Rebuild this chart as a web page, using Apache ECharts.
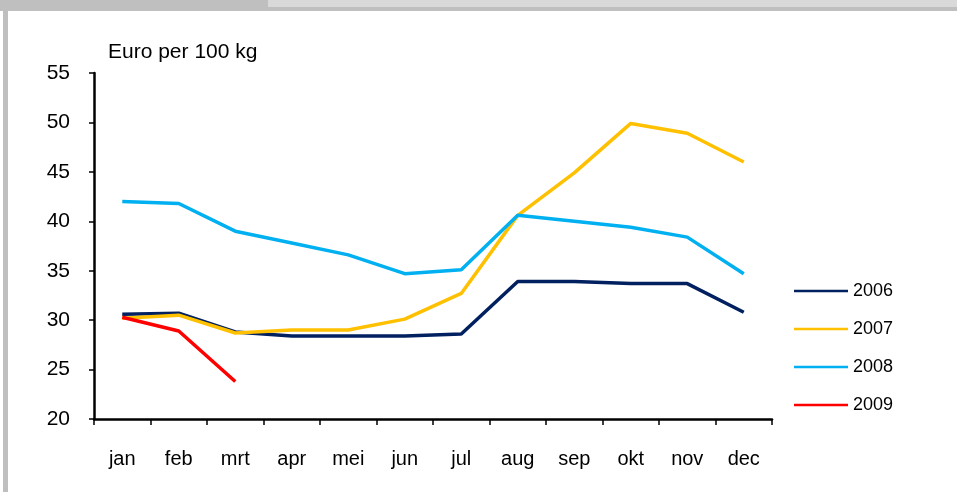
<!DOCTYPE html>
<html lang="nl">
<head>
    <meta charset="UTF-8">
    <title>Euro per 100 kg</title>
    <script src="https://cdn.jsdelivr.net/npm/echarts@6/dist/echarts.min.js"></script>
    <style>
        * {
            margin: 0;
            padding: 0
        }

        html, body {
            width: 100%;
            height: 100%;
        }

        #main {
            width: 957px;
            height: 492px;
        }
    </style>
</head>
<body>
<div id="main"></div>
<script>
    // maanden en prijzen per jaar
    var months = ['jan', 'feb', 'mrt', 'apr', 'mei', 'jun', 'jul', 'aug', 'sep', 'okt', 'nov', 'dec'];
    var years = ['2006', '2007', '2008', '2009'];
    var price2006 = [30.6, 30.7, 28.8, 28.4, 28.4, 28.4, 28.6, 33.9, 33.9, 33.7, 33.7, 30.8];
    var price2007 = [30.2, 30.5, 28.7, 29.0, 29.0, 30.1, 32.7, 40.6, 44.9, 49.9, 48.9, 46.0];
    var price2008 = [42.0, 41.8, 39.0, 37.8, 36.6, 34.7, 35.1, 40.6, 40.0, 39.4, 38.4, 34.7];
    var price2009 = [30.3, 28.9, 23.8];
    var yTicks = [20, 25, 30, 35, 40, 45, 50, 55];

    var font = '"Liberation Sans", sans-serif';
    var colors = ['#002060', '#FFC000', '#00B0F0', '#FF0000'];
    var allData = [price2006, price2007, price2008, price2009];

    var myChart = echarts.init(document.getElementById('main'));

    var series = [];
    for (var i = 0; i < years.length; i++) {
        series.push({
            name: years[i],
            type: 'line',
            data: allData[i],
            symbol: 'none',
            lineStyle: {color: colors[i], width: 3.5},
            itemStyle: {color: colors[i]}
        });
    }

    option = {
        animation: false,
        backgroundColor: '#fff',
        textStyle: {fontFamily: font},
        graphic: [
            {type: 'rect', left: 0, top: 0, shape: {width: 268, height: 11}, style: {fill: '#bfbfbf'}},
            {type: 'rect', left: 268, top: 0, shape: {width: 689, height: 7}, style: {fill: '#d9d9d9'}},
            {type: 'rect', left: 268, top: 7, shape: {width: 689, height: 4}, style: {fill: '#bfbfbf'}},
            {type: 'rect', left: 3, top: 11, shape: {width: 5, height: 481}, style: {fill: '#bfbfbf'}},
            {
                type: 'text', left: 108, top: 42,
                style: {text: 'Euro per 100 kg', fill: '#000', font: '21px ' + font}
            }
        ],
        legend: {
            orient: 'vertical',
            left: 794,
            top: 281,
            padding: 0,
            icon: 'rect',
            itemWidth: 54,
            itemHeight: 2.5,
            itemGap: 18,
            data: years,
            textStyle: {fontSize: 18, lineHeight: 20, color: '#000', fontFamily: font}
        },
        grid: {
            left: 94,
            right: 185,
            top: 73,
            bottom: 73,
            containLabel: false
        },
        xAxis: {
            type: 'category',
            data: months,
            boundaryGap: true,
            axisLine: {lineStyle: {color: '#000', width: 2.5}},
            axisTick: {show: true, length: 6, lineStyle: {color: '#000', width: 1.5}},
            axisLabel: {color: '#000', fontSize: 20, margin: 30, fontFamily: font}
        },
        yAxis: {
            type: 'value',
            min: yTicks[0],
            max: yTicks[yTicks.length - 1],
            interval: 5,
            splitLine: {show: false},
            axisLine: {show: true, lineStyle: {color: '#000', width: 2.5}},
            axisTick: {show: true, length: 5, lineStyle: {color: '#000', width: 1.5}},
            axisLabel: {color: '#000', fontSize: 21, margin: 24, fontFamily: font}
        },
        series: series
    };

    myChart.setOption(option);
</script>
</body>
</html>
